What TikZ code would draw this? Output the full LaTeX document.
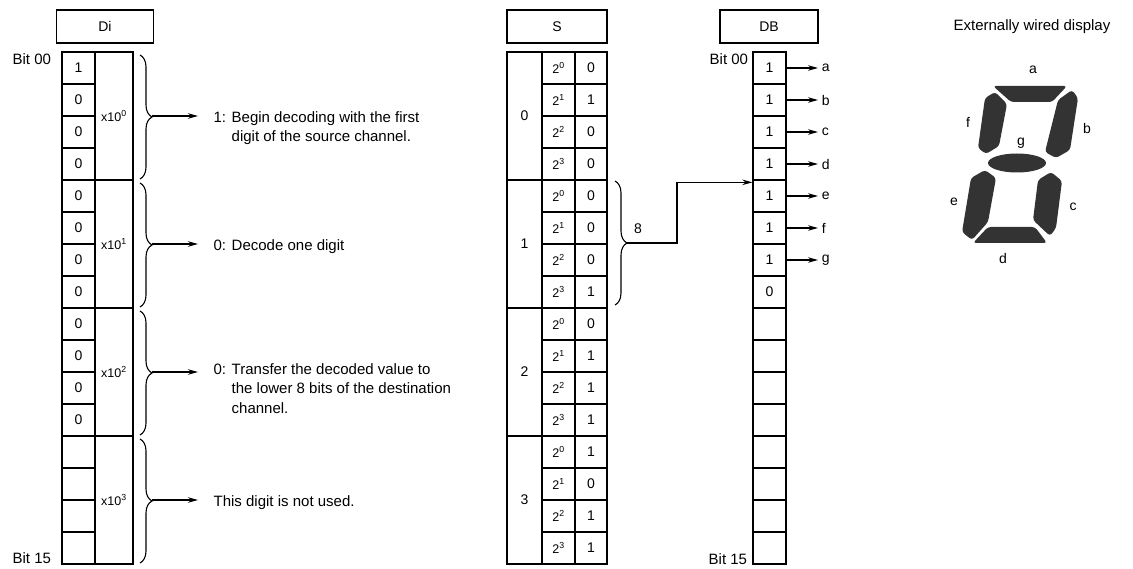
\documentclass[tikz,border=0pt]{standalone}
\usepackage{fontspec}
\setmainfont{Liberation Sans}
\usetikzlibrary{arrows.meta,decorations.pathreplacing,positioning}

\begin{document}
\begin{tikzpicture}[x=1pt,y=-1pt,line width=1.3pt,
  every node/.style={font=\fontsize{14}{18}\selectfont},
  cell/.style={draw,minimum width=33pt,minimum height=32pt,inner sep=0pt},
  grp/.style={draw,minimum height=128pt,inner sep=0pt},
  hdr/.style={draw,minimum width=97pt,minimum height=33pt,inner sep=0pt},
  note/.style={align=left,anchor=north west,inner sep=0pt,font=\fontsize{15}{19.5}\selectfont},
  pw/.style={font=\fontsize{12.5}{14}\selectfont},
  arr/.style={-{Stealth[length=10pt,width=5.5pt]}},
  brc/.style={decorate,decoration={brace,amplitude=12pt},line width=1.1pt},
  seg/.style={fill=black!80,rounded corners=3pt}]
\useasboundingbox (0,0) rectangle (1133,569);

% Di channel
\node[hdr] (hdi) at (105,26.5) {Di};
\foreach \v [count=\i from 0] in {1,0,0,0,0,0,0,0,0,0,0,0,{},{},{},{}}
  \node[cell] (di\i) at (78.5,68+32*\i) {\v};
\foreach \g in {0,...,3} {
  \node[grp,minimum width=38pt,pw] (dx\g) at (114,116+128*\g) {x10\textsuperscript{\g}};
  \draw[brc] (140,55+128*\g) -- (140,179+128*\g);
  \coordinate (bk\g) at (152,116+128*\g);
}
\node[anchor=east,font=\fontsize{15}{18}\selectfont] (dib0) at (55,59) {Bit 00};
\node[anchor=east,font=\fontsize{15}{18}\selectfont] (dib15) at (55,558) {Bit 15};

\node[note] (n0) at (213,110.5) {1: Begin decoding with the first\\\hphantom{1: }digit of the source channel.};
\node[note] (n1) at (213,238.5) {0: Decode one digit};
\node[note] (n2) at (213,362.5) {0: Transfer the decoded value to\\\hphantom{0: }the lower 8 bits of the destination\\\hphantom{0: }channel.};
\node[note] (n3) at (213,494.5) {This digit is not used.};
\foreach \g in {0,...,3}
  \draw[arr,shorten >=15pt] (bk\g) -- (bk\g -| n\g.west);

% S channel
\node[hdr,minimum width=100pt] (hs) at (557,26.5) {S};
\foreach \g in {0,...,3}
  \node[grp,minimum width=35pt] (sg\g) at (524.5,116+128*\g) {\g};
\foreach \v [count=\i from 0] in {0,1,0,0,0,0,0,1,0,1,1,1,1,0,1,1} {
  \pgfmathtruncatemacro\p{mod(\i,4)}
  \node[cell,pw] (sp\i) at (558.5,68+32*\i) {2\textsuperscript{\p}};
  \node[cell,minimum width=32pt] (sv\i) at (591,68+32*\i) {\v};
}
\draw[brc] (615,181) -- (615,305);
\coordinate (bs) at (627,243);
\node (n8) at (638,229) {8};

% DB channel
\node[hdr,minimum width=98pt] (hdb) at (769,26.5) {DB};
\foreach \v [count=\i from 0] in {1,1,1,1,1,1,1,0,{},{},{},{},{},{},{},{}}
  \node[cell] (db\i) at (769.5,68+32*\i) {\v};
\node[anchor=east,font=\fontsize{15}{18}\selectfont] (dbb0) at (752,59) {Bit 00};
\node[anchor=east,font=\fontsize{15}{18}\selectfont] (dbb15) at (751,559) {Bit 15};
\foreach \s [count=\i from 0] in {a,...,g} {
  \node[anchor=west] (l\s) at (818,68+32*\i) {\s};
  \draw[arr] (db\i) -- (l\s);
}
\draw[arr] (bs) -- ++(50,0) |- ([yshift=-3pt]db4.north west);

% seven segment display
\node[font=\fontsize{15}{18}\selectfont] (ttl) at (1032,27) {Externally wired display};
\fill[seg] (993,86) -- (1067,86) -- (1052,102) -- (1011,102) -- cycle;
\fill[seg] (985,98) -- (995,92) -- (1007,104) -- (999,146) -- (986,154) -- (978,148) -- cycle;
\fill[seg] (1058,100) -- (1072,90) -- (1078,98) -- (1070,150) -- (1056,158) -- (1045,152) -- cycle;
\fill[black!80] (1017,163) ellipse [x radius=29, y radius=9.5];
\fill[seg] (971,178) -- (985,170) -- (996,178) -- (988,222) -- (972,240) -- (962,232) -- cycle;
\fill[seg] (1038,180) -- (1051,172) -- (1062,181) -- (1056,228) -- (1050,236) -- (1033,220) -- cycle;
\fill[seg] (988,227) -- (1035,227) -- (1047,243) -- (973,243) -- cycle;
\node (sa) at (1033,70) {a};
\node (sb) at (1087,128) {b};
\node (sc) at (1073,207) {c};
\node (sd) at (1003,258) {d};
\node (se) at (954,202) {e};
\node (sf) at (968,122) {f};
\node (sg) at (1021,143) {g};
\end{tikzpicture}
\end{document}
